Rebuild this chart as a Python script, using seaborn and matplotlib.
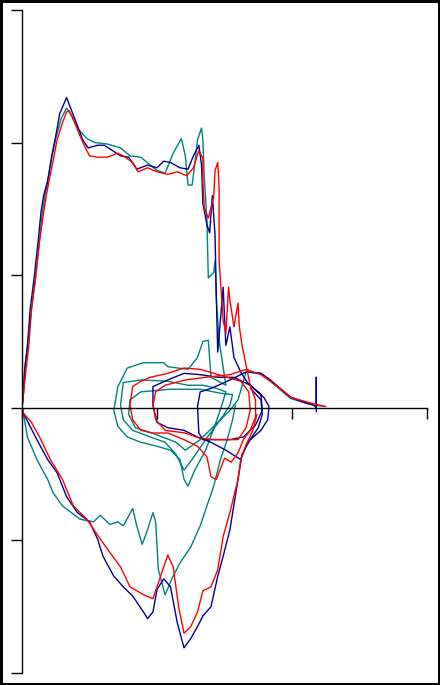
import numpy as np
import pandas as pd
import matplotlib
matplotlib.use('Agg')
import matplotlib.pyplot as plt
import seaborn as sns
from matplotlib.patches import Rectangle

# 数据 (x: 0-3, y: -2-3)
blue_up_x = [0, 0.01, 0.02, 0.04, 0.06, 0.09, 0.12, 0.14, 0.16, 0.19, 0.22, 0.25, 0.28, 0.33,
             0.36, 0.41, 0.45, 0.49, 0.56, 0.61, 0.67, 0.73, 0.79, 0.85, 0.93, 1.00, 1.05, 1.10,
             1.17, 1.23, 1.27, 1.31, 1.33, 1.34, 1.37, 1.39, 1.41, 1.43, 1.44, 1.45, 1.49, 1.51,
             1.54, 1.57, 1.62, 1.67, 1.79, 1.83, 1.82, 1.77, 1.67, 1.62, 1.51, 1.40, 1.30, 1.20,
             1.08, 1.00, 0.97, 0.97, 1.08, 1.20, 1.32, 1.45, 1.57, 1.69, 1.77, 1.78, 1.73, 1.64,
             1.54, 1.43, 1.34, 1.31, 1.30, 1.32, 1.41, 1.52, 1.66, 1.77, 1.84, 1.92, 1.99, 2.09,
             2.16, 2.18, 2.18, 2.18]
blue_up_y = [0, 0.10, 0.29, 0.46, 0.74, 0.98, 1.26, 1.47, 1.60, 1.71, 1.90, 2.05, 2.22, 2.34,
             2.26, 2.13, 2.02, 1.96, 1.98, 1.98, 1.94, 1.90, 1.89, 1.80, 1.83, 1.81, 1.86, 1.85,
             1.81, 1.80, 1.90, 1.98, 1.83, 1.54, 1.38, 1.32, 1.60, 1.30, 0.81, 0.42, 0.91, 0.47,
             0.61, 0.38, 0.27, 0.19, 0.08, 0.01, -0.09, -0.17, -0.26, -0.39, -0.32, -0.26, -0.22, -0.17,
             -0.15, -0.11, 0.02, 0.16, 0.21, 0.26, 0.25, 0.23, 0.23, 0.17, 0.10, -0.02, -0.13, -0.22,
             -0.24, -0.24, -0.24, -0.19, 0.01, 0.12, 0.15, 0.20, 0.27, 0.26, 0.21, 0.14, 0.08, 0.04,
             0.02, 0.00, 0.23, -0.03]

blue_low_x = [0, 0.01, 0.06, 0.11, 0.19, 0.26, 0.33, 0.41, 0.50, 0.56, 0.60, 0.68, 0.75, 0.82,
              0.90, 0.93, 0.97, 1.00, 1.05, 1.10, 1.15, 1.20, 1.25, 1.30, 1.34, 1.40, 1.45, 1.49,
              1.54, 1.60, 1.63, 1.69, 1.75, 1.78, 1.77, 1.69]
blue_low_y = [0, -0.04, -0.14, -0.24, -0.39, -0.49, -0.67, -0.79, -0.86, -0.99, -1.12, -1.27, -1.35, -1.42,
              -1.54, -1.59, -1.54, -1.37, -1.29, -1.35, -1.62, -1.81, -1.74, -1.65, -1.57, -1.50, -1.27, -1.12,
              -0.92, -0.54, -0.35, -0.24, -0.15, -0.05, 0.06, 0.15]

red_up_x = [0, 0.01, 0.03, 0.05, 0.07, 0.10, 0.13, 0.16, 0.18, 0.20, 0.23, 0.26, 0.30, 0.33,
            0.35, 0.39, 0.43, 0.47, 0.50, 0.56, 0.63, 0.71, 0.75, 0.82, 0.86, 0.93, 1.00, 1.08,
            1.15, 1.22, 1.27, 1.31, 1.34, 1.34, 1.35, 1.38, 1.42, 1.43, 1.45, 1.46, 1.46, 1.49,
            1.51, 1.53, 1.54, 1.57, 1.60, 1.61, 1.63, 1.69, 1.73, 1.73, 1.69, 1.64, 1.60, 1.55,
            1.50, 1.44, 1.40, 1.37, 1.30, 1.20, 1.08, 0.97, 0.88, 0.82, 0.80, 0.82, 0.88, 0.95,
            1.08, 1.20, 1.32, 1.42, 1.52, 1.62, 1.68, 1.69, 1.66, 1.60, 1.43, 1.32, 1.21, 1.06,
            0.99, 0.97, 0.99, 1.06, 1.21, 1.36, 1.54, 1.66, 1.77, 1.84, 1.92, 1.99, 2.09, 2.16,
            2.25]
red_up_y = [0, 0.10, 0.29, 0.46, 0.74, 0.98, 1.26, 1.47, 1.60, 1.71, 1.86, 2.02, 2.15, 2.23,
            2.24, 2.15, 2.05, 1.96, 1.90, 1.89, 1.89, 1.92, 1.90, 1.85, 1.78, 1.81, 1.78, 1.76,
            1.78, 1.75, 1.81, 1.94, 1.88, 1.70, 1.51, 1.43, 1.59, 1.79, 1.85, 1.66, 1.11, 0.66,
            0.56, 0.91, 0.81, 0.61, 0.79, 0.61, 0.47, 0.17, 0.06, -0.07, -0.17, -0.24, -0.34, -0.41,
            -0.38, -0.54, -0.52, -0.37, -0.29, -0.24, -0.19, -0.19, -0.17, -0.09, 0.02, 0.16, 0.20, 0.23,
            0.26, 0.30, 0.29, 0.26, 0.23, 0.20, 0.12, -0.02, -0.15, -0.24, -0.24, -0.23, -0.19, -0.17,
            -0.09, 0.02, 0.12, 0.17, 0.21, 0.23, 0.25, 0.29, 0.25, 0.20, 0.14, 0.08, 0.05, 0.03,
            0.01]

red_low_x = [0, 0.01, 0.07, 0.13, 0.21, 0.30, 0.38, 0.48, 0.58, 0.65, 0.73, 0.80, 0.90, 0.97,
             1.02, 1.08, 1.12, 1.16, 1.20, 1.25, 1.30, 1.34, 1.40, 1.45, 1.49, 1.54, 1.60, 1.62,
             1.66, 1.71, 1.74]
red_low_y = [0, -0.04, -0.11, -0.22, -0.39, -0.54, -0.74, -0.84, -0.99, -1.09, -1.20, -1.35, -1.41, -1.44,
             -1.29, -1.11, -1.20, -1.50, -1.70, -1.65, -1.54, -1.38, -1.35, -1.22, -0.97, -0.79, -0.54, -0.39,
             -0.28, -0.17, -0.05]

teal_up_x = [0, 0.01, 0.02, 0.04, 0.07, 0.10, 0.13, 0.15, 0.17, 0.19, 0.22, 0.25, 0.29, 0.33,
             0.37, 0.41, 0.48, 0.54, 0.63, 0.73, 0.80, 0.88, 0.95, 1.00, 1.06, 1.12, 1.18, 1.21,
             1.23, 1.26, 1.28, 1.30, 1.33, 1.34, 1.35, 1.37, 1.38, 1.42, 1.43, 1.44, 1.46, 1.51,
             1.40, 1.38, 1.34, 1.30, 1.23, 1.08, 1.05, 0.90, 0.78, 0.71, 0.68, 0.71, 0.78, 0.88,
             1.00, 1.10, 1.17, 1.20, 1.23, 1.28, 1.36, 1.43, 1.48, 1.51, 1.43, 1.34, 1.23, 1.08,
             0.88, 0.75, 0.73, 0.75, 0.82, 0.95, 1.06, 1.14, 1.20, 1.26, 1.36, 1.47, 1.54, 1.56,
             1.47, 1.32, 1.10, 0.88, 0.80, 0.79, 0.84, 0.99, 1.14, 1.21, 1.32, 1.43, 1.54, 1.60,
             1.66, 1.77, 1.84, 1.92, 1.99, 2.09, 2.16, 2.24]
teal_up_y = [0, 0.10, 0.29, 0.46, 0.74, 0.98, 1.26, 1.47, 1.60, 1.71, 1.88, 2.03, 2.18, 2.26,
             2.20, 2.11, 2.03, 2.00, 1.99, 1.96, 1.90, 1.89, 1.83, 1.79, 1.77, 1.92, 2.03, 1.90,
             1.68, 1.68, 1.84, 2.02, 2.11, 2.02, 1.74, 1.41, 0.98, 1.02, 1.11, 0.81, 0.51, 0.17,
             0.23, 0.51, 0.50, 0.38, 0.29, 0.31, 0.34, 0.34, 0.30, 0.16, -0.02, -0.14, -0.22, -0.26,
             -0.29, -0.32, -0.39, -0.54, -0.59, -0.47, -0.32, -0.13, 0.02, 0.12, 0.15, 0.17, 0.17, 0.20,
             0.21, 0.19, 0.02, -0.09, -0.17, -0.22, -0.26, -0.35, -0.47, -0.39, -0.24, -0.09, 0.02, 0.10,
             0.11, 0.14, 0.14, 0.12, 0.06, -0.05, -0.15, -0.20, -0.26, -0.32, -0.24, -0.13, -0.02, 0.06,
             0.27, 0.26, 0.20, 0.13, 0.07, 0.04, 0.02, 0.01]

teal_low_x = [0, 0.01, 0.04, 0.11, 0.19, 0.23, 0.30, 0.43, 0.53, 0.58, 0.65, 0.71, 0.75, 0.82,
              0.85, 0.89, 0.93, 0.97, 0.99, 1.01, 1.06, 1.11, 1.17, 1.25, 1.32, 1.37, 1.42, 1.47,
              1.52, 1.56, 1.58]
teal_low_y = [0, -0.04, -0.22, -0.39, -0.54, -0.64, -0.74, -0.84, -0.86, -0.81, -0.88, -0.86, -0.89, -0.76,
              -0.89, -1.03, -0.92, -0.79, -0.86, -1.22, -1.41, -1.29, -1.17, -1.05, -0.89, -0.74, -0.59, -0.39,
              -0.24, -0.09, 0.02]

blue = '#000090'
red = '#ff0000'
teal = '#008080'

paths = [
    (teal_up_x, teal_up_y, teal),
    (teal_low_x, teal_low_y, teal),
    (blue_up_x, blue_up_y, blue),
    (blue_low_x, blue_low_y, blue),
    (red_up_x, red_up_y, red),
    (red_low_x, red_low_y, red),
]

sns.set_style('ticks')
fig = plt.figure(figsize=(4.4, 6.85), dpi=100)
ax = fig.add_axes([22 / 440, 12 / 685, 405 / 440, 663 / 685])

for xs, ys, c in paths:
    sns.lineplot(x=xs, y=ys, sort=False, estimator=None, color=c, linewidth=1.0, ax=ax)

ax.set_xlim(0, 3.0)
ax.set_ylim(-2, 3)
ax.set_xticks([0, 1, 2, 3])
ax.set_yticks([-2, -1, 0, 1, 2, 3])
ax.spines['bottom'].set_position(('data', 0))
ax.spines['top'].set_visible(False)
ax.spines['right'].set_visible(False)
for s in ['bottom', 'left']:
    ax.spines[s].set_color('black')
    ax.spines[s].set_linewidth(1.0)
ax.tick_params(direction='out', length=8, width=1.0, color='black',
               labelbottom=False, labelleft=False)
ax.set_xlabel('')
ax.set_ylabel('')

fig.add_artist(Rectangle((0, 0), 1, 1, transform=fig.transFigure, fill=False,
                         edgecolor='black', linewidth=3.6))

fig.savefig('out.png', dpi=100)
